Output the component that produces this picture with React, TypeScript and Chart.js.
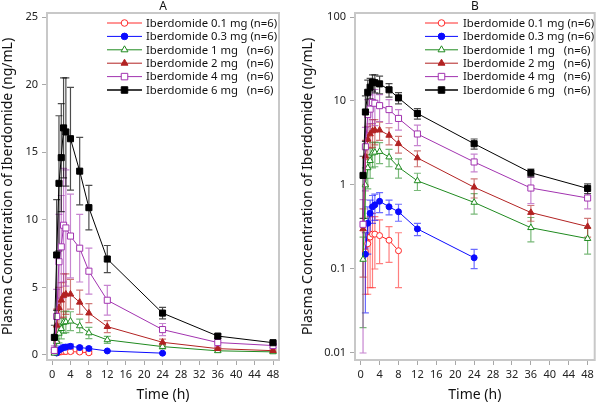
import React, { useEffect, useRef } from "react";
import { Chart, registerables } from "chart.js";
Chart.register(...registerables);

const FONT = "'Noto Sans', 'DejaVu Sans', sans-serif";

const doseLabels = [
  "Iberdomide 0.1 mg (n=6)",
  "Iberdomide 0.3 mg (n=6)",
  "Iberdomide 1 mg   (n=6)",
  "Iberdomide 2 mg   (n=6)",
  "Iberdomide 4 mg   (n=6)",
  "Iberdomide 6 mg   (n=6)",
];
const doseColors = ["#ff2a2a", "#0a0aff", "#1f8a1f", "#b22222", "#a233b0", "#000000"];
const doseMarkers = ["circle", "circle", "triangle", "triangle", "rect", "rect"];
const doseFilled = [false, true, false, true, false, true];

const xTickValues = [0, 4, 8, 12, 16, 20, 24, 28, 32, 36, 40, 44, 48];
const linTickValues = [0, 5, 10, 15, 20, 25];
const logTickValues = [0.01, 0.1, 1, 10, 100];

// time points (h)
const timesLow = [1, 1.5, 2, 2.5, 3, 4, 6, 8];
const times03 = [1, 1.5, 2, 2.5, 3, 4, 6, 8, 12, 24];
const timesFull = [0.5, 1, 1.5, 2, 2.5, 3, 4, 6, 8, 12, 24, 36, 48];

// mean and SD (ng/mL)
const mean01 = [0.16, 0.2, 0.24, 0.26, 0.26, 0.25, 0.22, 0.165];
const sd01 = [0.11, 0.15, 0.18, 0.2, 0.16, 0.134, 0.1, 0.105];
const mean03 = [0.15, 0.35, 0.46, 0.55, 0.58, 0.64, 0.55, 0.48, 0.3, 0.136];
const sd03 = [0.12, 0.2, 0.2, 0.2, 0.2, 0.17, 0.11, 0.11, 0.05, 0.035];
const mean1 = [0.13, 1.0, 1.6, 1.95, 2.4, 2.45, 2.5, 2.15, 1.63, 1.12, 0.62, 0.31, 0.23];
const sd1 = [0.11, 0.6, 0.7, 0.75, 0.8, 0.8, 0.7, 0.5, 0.42, 0.26, 0.17, 0.1, 0.08];
const mean2 = [0.3, 2.2, 3.5, 4.05, 4.4, 4.5, 4.5, 3.9, 3.1, 2.1, 0.94, 0.47, 0.32];
const sd2 = [0.22, 1.2, 1.5, 1.3, 1.6, 1.5, 1.1, 0.9, 0.7, 0.45, 0.24, 0.1, 0.08];
const mean4 = [0.34, 2.85, 6.9, 8.0, 9.6, 9.4, 8.8, 7.9, 6.2, 4.05, 1.88, 0.92, 0.7];
const sd4 = [0.33, 2.0, 3.5, 3.8, 4.2, 4.3, 3.1, 2.5, 1.7, 1.1, 0.45, 0.32, 0.18];
const mean6 = [1.3, 7.4, 12.7, 14.6, 16.8, 16.5, 16.0, 13.6, 10.9, 7.1, 3.1, 1.4, 0.91];
const sd6 = [0.9, 4.1, 5.0, 4.0, 3.7, 4.0, 3.8, 2.5, 1.65, 1.0, 0.43, 0.15, 0.12];

const seriesTimes = [timesLow, times03, timesFull, timesFull, timesFull, timesFull];
const seriesMeans = [mean01, mean03, mean1, mean2, mean4, mean6];
const seriesSds = [sd01, sd03, sd1, sd2, sd4, sd6];

const yTitle = "Plasma Concentration of Iberdomide (ng/mL)";
const xTitle = "Time (h)";

function hexA(hex: string, a: number) {
  const h = hex.replace("#", "");
  const r = parseInt(h.slice(0, 2), 16);
  const g = parseInt(h.slice(2, 4), 16);
  const b = parseInt(h.slice(4, 6), 16);
  return `rgba(${r},${g},${b},${a})`;
}

function markerRadius(k: number) {
  const m = doseMarkers[k];
  if (m === "rect") return 4.3;
  if (m === "triangle") return 3.7;
  return 3.0;
}

function buildDatasets() {
  return doseLabels.map((label, k) => ({
    label,
    data: seriesTimes[k].map((x, i) => ({ x, y: seriesMeans[k][i] })),
    sd: seriesSds[k],
    borderColor: doseColors[k],
    backgroundColor: doseColors[k],
    pointStyle: doseMarkers[k],
    pointRadius: markerRadius(k),
    pointBackgroundColor: doseFilled[k] ? doseColors[k] : "#ffffff",
    pointBorderColor: doseColors[k],
    pointBorderWidth: 1,
    borderWidth: 1,
    tension: 0,
    order: 5 - k,
  }));
}

function drawMarker(ctx: CanvasRenderingContext2D, k: number, x: number, y: number) {
  const r = markerRadius(k) + 0.3;
  ctx.save();
  ctx.fillStyle = doseFilled[k] ? doseColors[k] : "#ffffff";
  ctx.strokeStyle = doseColors[k];
  ctx.lineWidth = 1;
  ctx.beginPath();
  const m = doseMarkers[k];
  if (m === "circle") {
    ctx.arc(x, y, r, 0, Math.PI * 2);
  } else if (m === "triangle") {
    const h = (r * 3) / 2;
    const s = (r * 3) / Math.sqrt(3);
    ctx.moveTo(x - s / 2, y + h / 3);
    ctx.lineTo(x + s / 2, y + h / 3);
    ctx.lineTo(x, y - (2 * h) / 3);
    ctx.closePath();
  } else {
    const s = Math.SQRT1_2 * r;
    ctx.rect(x - s, y - s, 2 * s, 2 * s);
  }
  ctx.fill();
  ctx.stroke();
  ctx.restore();
}

function makePlugin(title: string, leg: { lx0: number; lx1: number; tx: number; y0: number; dy: number }) {
  return {
    id: "panelDecor",
    beforeDatasetsDraw(chart: any) {
      const { ctx, chartArea: ca, scales } = chart;
      const xs = scales.x;
      const ys = scales.y;
      const isLog = ys.type === "logarithmic";
      ctx.save();
      ctx.beginPath();
      ctx.rect(ca.left, ca.top, ca.right - ca.left, ca.bottom - ca.top);
      ctx.clip();
      chart.data.datasets.forEach((ds: any, k: number) => {
        ctx.strokeStyle = hexA(doseColors[k], k === 5 ? 0.7 : 0.6);
        ctx.lineWidth = 1.2;
        ds.data.forEach((p: any, i: number) => {
          const sd = ds.sd[i];
          const px = xs.getPixelForValue(p.x);
          const hi = ys.getPixelForValue(p.y + sd);
          const loV = p.y - sd;
          let lo: number;
          let cap = true;
          if (isLog && loV <= 0) {
            lo = ca.bottom;
            cap = false;
          } else lo = ys.getPixelForValue(loV);
          ctx.beginPath();
          ctx.moveTo(px, hi);
          ctx.lineTo(px, lo);
          ctx.moveTo(px - 3.5, hi);
          ctx.lineTo(px + 3.5, hi);
          if (cap) {
            ctx.moveTo(px - 3.5, lo);
            ctx.lineTo(px + 3.5, lo);
          }
          ctx.stroke();
        });
      });
      ctx.restore();
    },
    afterDraw(chart: any) {
      const { ctx, chartArea: ca } = chart;
      ctx.save();
      // frame
      ctx.strokeStyle = "#c8c8c8";
      ctx.lineWidth = 2;
      ctx.strokeRect(ca.left, ca.top, ca.right - ca.left, ca.bottom - ca.top);
      // panel title
      ctx.fillStyle = "#111";
      ctx.font = `12px ${FONT}`;
      ctx.textAlign = "center";
      ctx.textBaseline = "alphabetic";
      ctx.fillText(title, (ca.left + ca.right) / 2, 10);
      // x title
      ctx.font = `14px ${FONT}`;
      ctx.fillText(xTitle, (ca.left + ca.right) / 2, 399);
      // y title
      ctx.save();
      ctx.translate(12, (ca.top + ca.bottom) / 2);
      ctx.rotate(-Math.PI / 2);
      ctx.fillText(yTitle, 0, 0);
      ctx.restore();
      // legend
      ctx.font = `11.3px ${FONT}`;
      ctx.textAlign = "left";
      ctx.textBaseline = "middle";
      doseLabels.forEach((label, k) => {
        const y = leg.y0 + k * leg.dy;
        ctx.strokeStyle = doseColors[k];
        ctx.lineWidth = k === 5 ? 1.6 : 1;
        ctx.beginPath();
        ctx.moveTo(leg.lx0, y);
        ctx.lineTo(leg.lx1, y);
        ctx.stroke();
        drawMarker(ctx, k, (leg.lx0 + leg.lx1) / 2, y);
        ctx.fillStyle = "#111";
        ctx.fillText(label, leg.tx, y + 0.5);
      });
      ctx.restore();
    },
  };
}

function makeConfig(isLog: boolean): any {
  const yAxisWidth = isLog ? 55 : 47;
  const padRight = isLog ? 5 : 21;
  const tickFont = { family: FONT, size: 11 };
  const gridOpts = {
    display: true,
    drawOnChartArea: false,
    drawTicks: true,
    tickLength: 5,
    color: "#a8a8a8",
    lineWidth: 1,
  };
  return {
    type: "line",
    data: { datasets: buildDatasets() },
    options: {
      responsive: false,
      animation: false,
      events: [],
      layout: { padding: { left: 0, right: padRight, top: 13, bottom: 0 } },
      plugins: { legend: { display: false }, tooltip: { enabled: false }, title: { display: false } },
      scales: {
        x: {
          type: "linear",
          min: isLog ? -1.2 : -1.1,
          max: isLog ? 49.5 : 49.3,
          afterBuildTicks: (s: any) => {
            s.ticks = xTickValues.map((v) => ({ value: v }));
          },
          afterFit: (s: any) => {
            s.height = 44;
          },
          ticks: { font: tickFont, color: "#222", padding: 3, maxRotation: 0, autoSkip: false },
          grid: gridOpts,
          border: { display: false },
        },
        y: isLog
          ? {
              type: "logarithmic",
              min: 0.00825,
              max: 111.6,
              afterBuildTicks: (s: any) => {
                s.ticks = logTickValues.map((v) => ({ value: v }));
              },
              afterFit: (s: any) => {
                s.width = yAxisWidth;
              },
              ticks: { font: tickFont, color: "#222", padding: 4, callback: (v: number) => String(v), autoSkip: false },
              grid: gridOpts,
              border: { display: false },
            }
          : {
              type: "linear",
              min: -0.37,
              max: 25.3,
              afterBuildTicks: (s: any) => {
                s.ticks = linTickValues.map((v) => ({ value: v }));
              },
              afterFit: (s: any) => {
                s.width = yAxisWidth;
              },
              ticks: { font: tickFont, color: "#222", padding: 4, callback: (v: number) => String(v), autoSkip: false },
              grid: gridOpts,
              border: { display: false },
            },
      },
    },
  };
}

function Panel({ isLog, title, left }: { isLog: boolean; title: string; left: number }) {
  const ref = useRef<HTMLCanvasElement | null>(null);
  useEffect(() => {
    if (!ref.current) return;
    const cfg = makeConfig(isLog);
    const leg = isLog
      ? { lx0: 125, lx1: 158, tx: 163, y0: 23, dy: 13.4 }
      : { lx0: 107, lx1: 142, tx: 146, y0: 23, dy: 13.4 };
    cfg.plugins = [makePlugin(title, leg)];
    const chart = new Chart(ref.current, cfg);
    return () => chart.destroy();
  }, [isLog, title]);
  return (
    <canvas
      ref={ref}
      width={300}
      height={404}
      style={{ position: "absolute", left, top: 0, width: 300, height: 404 }}
    />
  );
}

export default function App() {
  return (
    <div style={{ position: "fixed", left: 0, top: 0, width: 600, height: 404, background: "#ffffff" }}>
      <Panel isLog={false} title="A" left={0} />
      <Panel isLog={true} title="B" left={300} />
    </div>
  );
}
